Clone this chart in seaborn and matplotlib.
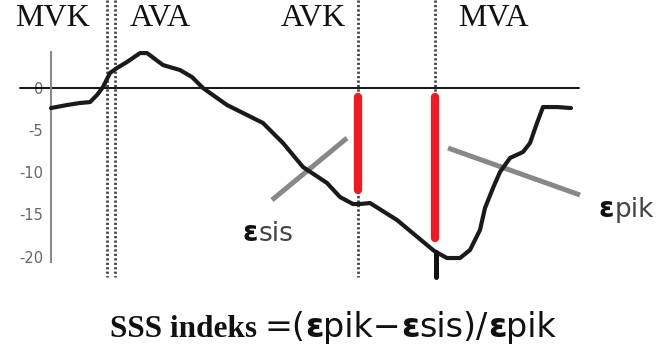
import numpy as np
import pandas as pd
import matplotlib
matplotlib.use("Agg")
import matplotlib.pyplot as plt
import seaborn as sns

# ---------------- data ----------------
# time (ms) and longitudinal strain (%)
time_ms = [0, 32, 58, 78, 92, 104, 118, 132, 152, 178, 192, 224, 258, 282, 304,
           352, 392, 424, 464, 504, 552, 578, 604, 618, 638, 692, 764, 770,
           792, 818, 838, 858, 868, 884, 898, 918, 944, 958, 972, 984, 1012, 1040]
strain = [-2.43, -2.07, -1.83, -1.72, -0.89, 0.06, 1.72, 2.31, 3.02, 4.08, 4.08,
          2.66, 2.07, 1.24, -0.06, -2.07, -3.25, -4.20, -6.57, -9.41, -11.30,
          -12.96, -13.79, -13.79, -13.67, -15.68, -19.23, -19.47, -20.18, -20.18,
          -19.23, -16.86, -14.26, -11.89, -10.00, -8.34, -7.63, -6.57, -4.20,
          -2.31, -2.31, -2.43]

notch_time = [770, 770]
notch_strain = [-19.47, -22.43]

# valve events (ms)
mvk_ava_times = [112, 128]
avk_time = 614
mva_time = 768
event_bottom = -22.4

# red strain markers (start, end)
red_times = [614, 768]
red_top = [-1.12, -1.12]
red_bottom = [-12.13, -17.8]

# grey tangent lines
sis_line_t = [442, 592]
sis_line_v = [-13.31, -5.98]
pik_line_t = [794, 1058]
pik_line_v = [-7.16, -12.72]

zero_span = [-62, 1056]

yticks = [0, -5, -10, -15, -20]
ytick_labels = ["0", "-5", "-10", "-15", "-20"]
spine_bounds = (-20.65, 4.2)

phase_labels = ["MVK", "AVA", "AVK", "MVA"]
phase_x = [4, 218, 524, 884]
phase_y = 8.2

# ---------------- figure ----------------
sns.set_style("white")
plt.rcParams["axes.unicode_minus"] = False
plt.rcParams["font.family"] = ["DejaVu Sans"]

fig = plt.figure(figsize=(6.59, 3.6), dpi=100)
ax = fig.add_axes([0, 0, 1, 1])
ax.set_xlim(-102, 1216)
ax.set_ylim(-32.25, 10.36)

# zero line
ax.plot(zero_span, [0, 0], color="black", lw=1.3, zorder=2)

# dotted event lines
dot_style = dict(color="#444444", lw=2.0, linestyle=(0, (0.8, 0.8)), zorder=2)
for t in mvk_ava_times:
    ax.plot([t, t], [10.4, event_bottom], **dot_style)
ax.plot([avk_time, avk_time], [10.4, event_bottom], **dot_style)
ax.plot([mva_time, mva_time], [10.4, -2], **dot_style)

# grey tangent lines
ax.plot(sis_line_t, sis_line_v, color="#888888", lw=3.6, solid_capstyle="butt", zorder=3)
ax.plot(pik_line_t, pik_line_v, color="#888888", lw=3.6, solid_capstyle="butt", zorder=3)

# strain curve
df = pd.DataFrame({"time": time_ms, "strain": strain})
sns.lineplot(data=df, x="time", y="strain", sort=False, estimator=None,
             color="#1a1a1a", lw=3.0, ax=ax, zorder=4)
ax.plot(notch_time, notch_strain, color="#111111", lw=3.6, zorder=4)

# red markers
for t, top, bot in zip(red_times, red_top, red_bottom):
    ax.plot([t, t], [top, bot], color="#ec1c24", lw=6, solid_capstyle="round", zorder=5)

# axes styling
for s in ["top", "right", "bottom"]:
    ax.spines[s].set_visible(False)
ax.spines["left"].set_position(("data", 0))
ax.spines["left"].set_bounds(*spine_bounds)
ax.spines["left"].set_color("#8a8a8a")
ax.spines["left"].set_linewidth(1.5)
ax.set_xticks([])
ax.set_yticks(yticks)
ax.set_yticklabels(ytick_labels)
ax.tick_params(axis="y", direction="out", length=3, width=1.2, color="#8a8a8a",
               labelcolor="#666666", labelsize=10.5, pad=2.5)
ax.set_xlabel("")
ax.set_ylabel("")

# phase labels
for lab, x in zip(phase_labels, phase_x):
    ax.text(x, phase_y, lab, ha="center", va="center", fontsize=23,
            family="Liberation Serif", color="#111111")

renderer = fig.canvas.get_renderer()


def chain(x, y, parts, gap_px=0.0):
    """Draw text pieces one after another on a common baseline."""
    for txt, kw in parts:
        t = ax.text(x, y, txt, ha="left", va="baseline", **kw)
        bb = t.get_window_extent(renderer)
        x = ax.transData.inverted().transform((bb.x1 + gap_px, 0))[0]
    return x


# epsilon labels
eps_kw = dict(fontsize=20, fontweight="bold", color="#111111")
sub_kw = dict(fontsize=19, color="#444444")
chain(382, -18.2, [("ε", eps_kw), ("sis", sub_kw)], gap_px=1)
chain(1094, -15.3, [("ε", eps_kw), ("pik", sub_kw)], gap_px=1)

# formula
reg = dict(fontsize=24, color="#111111")
bld = dict(fontsize=24, color="#111111", fontweight="bold")
x_end = chain(118, -29.5, [("SSS indeks", dict(fontsize=22.5, family="Liberation Serif",
                                                  fontweight="bold", color="#111111"))])
x_end = x_end + 14
chain(x_end, -29.5, [("=(", reg), ("ε", bld), ("pik−", reg), ("ε", bld),
                     ("sis)/", reg), ("ε", bld), ("pik", reg)])

fig.savefig("out.png", dpi=100)
